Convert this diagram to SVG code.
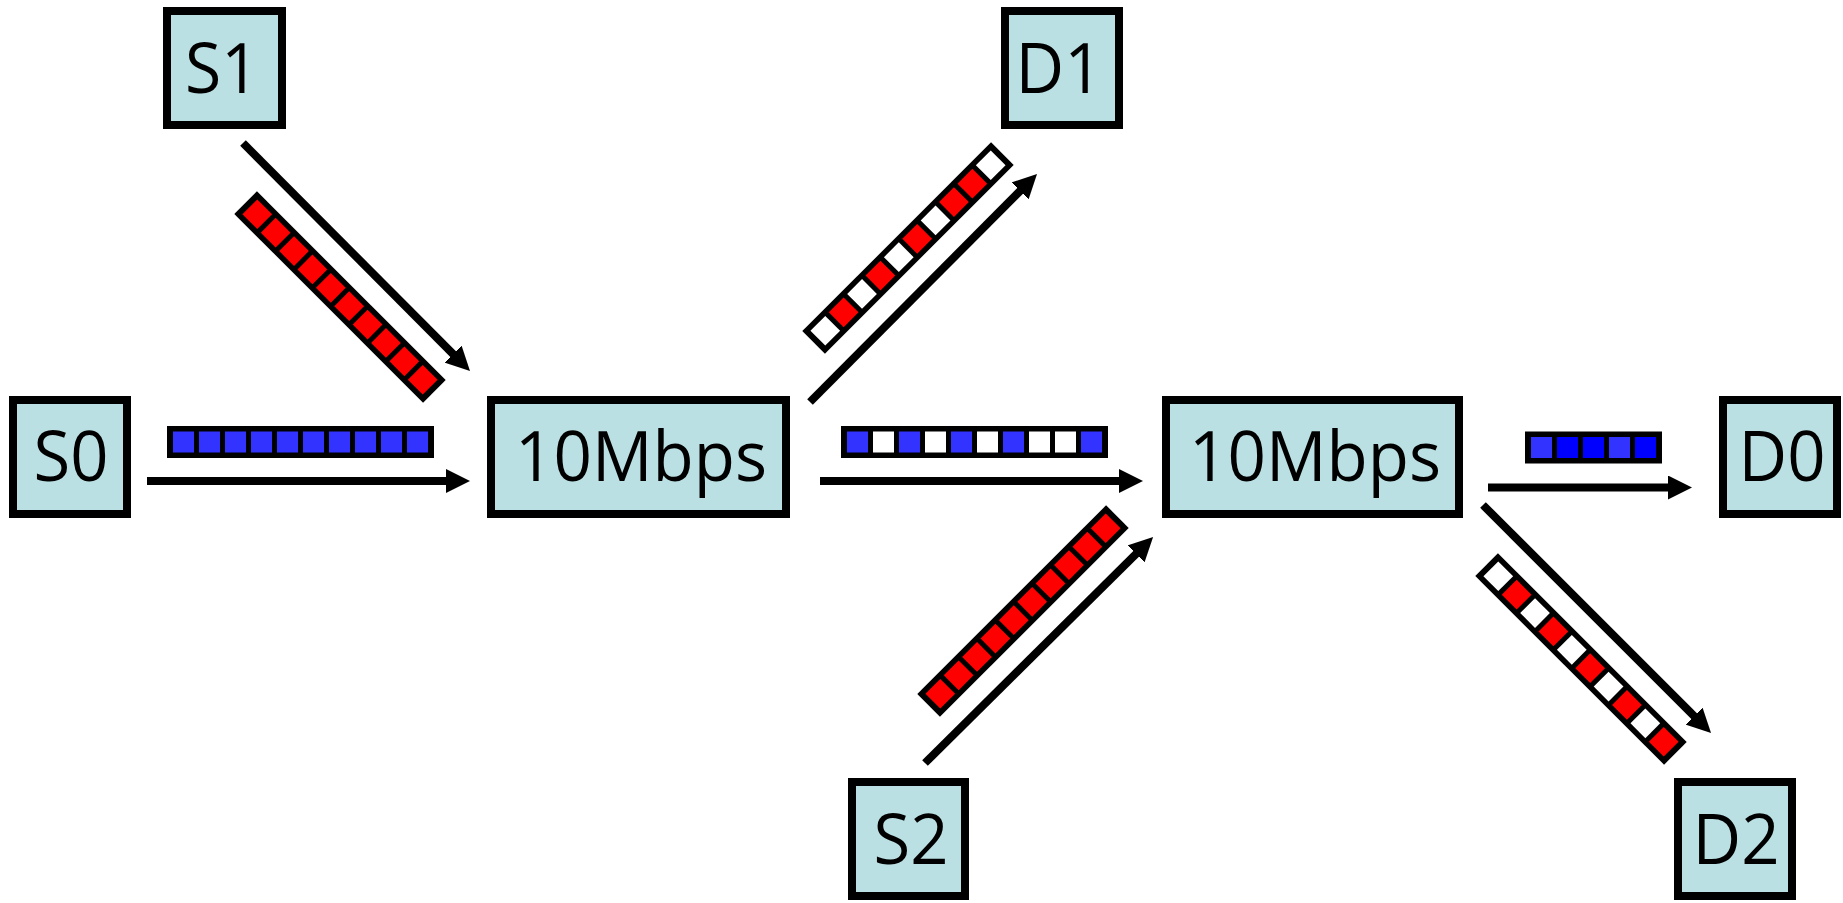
<svg xmlns="http://www.w3.org/2000/svg" width="1843" height="903" viewBox="0 0 1843 903">
  <style>
    .box { fill: #BBE0E3; stroke: #000; stroke-width: 8; }
    .lbl { font-family: "Open Sans", "Noto Sans", "Liberation Sans", sans-serif; font-size: 70px; fill: #000; text-anchor: middle; }
    .link { stroke: #000; stroke-width: 8; fill: none; marker-end: url(#head); }
    .frame { fill: #000; }
    .r { fill: #FF0000; }
    .b { fill: #3333FF; }
    .bb { fill: #0000FF; }
    .w { fill: #FFFFFF; }
  </style>
  <defs>
    <marker id="head" viewBox="0 0 24 24" refX="4" refY="12" markerWidth="24" markerHeight="24" markerUnits="userSpaceOnUse" orient="auto">
      <path d="M0,0 L24,12 L0,24 Z" fill="#000"/>
    </marker>
  </defs>
  <rect x="0" y="0" width="1843" height="903" fill="#FFFFFF"/>

  <g id="connectors">
    <line class="link" x1="147" y1="481" x2="450" y2="481"/>
    <line class="link" x1="820" y1="481" x2="1123" y2="481"/>
    <line class="link" x1="1488" y1="487.5" x2="1672" y2="487.5"/>
    <line class="link" x1="243" y1="143" x2="455.9" y2="356.9"/>
    <line class="link" x1="810" y1="402" x2="1022.9" y2="188.1"/>
    <line class="link" x1="925" y1="763" x2="1138.9" y2="551.1"/>
    <line class="link" x1="1483" y1="505" x2="1696.9" y2="718.9"/>
  </g>

  <g id="queues">
    <g id="q-s0" transform="translate(300.5,442)">
      <rect class="frame" x="-133.5" y="-16" width="267" height="32"/>
      <rect class="b" x="-127.5" y="-10.5" width="21" height="21"/>
      <rect class="b" x="-101.5" y="-10.5" width="21" height="21"/>
      <rect class="b" x="-75.5" y="-10.5" width="21" height="21"/>
      <rect class="b" x="-49.5" y="-10.5" width="21" height="21"/>
      <rect class="b" x="-23.5" y="-10.5" width="21" height="21"/>
      <rect class="b" x="2.5" y="-10.5" width="21" height="21"/>
      <rect class="b" x="28.5" y="-10.5" width="21" height="21"/>
      <rect class="b" x="54.5" y="-10.5" width="21" height="21"/>
      <rect class="b" x="80.5" y="-10.5" width="21" height="21"/>
      <rect class="b" x="106.5" y="-10.5" width="21" height="21"/>
    </g>
    <g id="q-s1" transform="translate(340,297) rotate(45)">
      <rect class="frame" x="-133.5" y="-16" width="267" height="32"/>
      <rect class="r" x="-127.5" y="-10.5" width="21" height="21"/>
      <rect class="r" x="-101.5" y="-10.5" width="21" height="21"/>
      <rect class="r" x="-75.5" y="-10.5" width="21" height="21"/>
      <rect class="r" x="-49.5" y="-10.5" width="21" height="21"/>
      <rect class="r" x="-23.5" y="-10.5" width="21" height="21"/>
      <rect class="r" x="2.5" y="-10.5" width="21" height="21"/>
      <rect class="r" x="28.5" y="-10.5" width="21" height="21"/>
      <rect class="r" x="54.5" y="-10.5" width="21" height="21"/>
      <rect class="r" x="80.5" y="-10.5" width="21" height="21"/>
      <rect class="r" x="106.5" y="-10.5" width="21" height="21"/>
    </g>
    <g id="q-mid" transform="translate(974.5,442)">
      <rect class="frame" x="-133.5" y="-16" width="267" height="32"/>
      <rect class="b" x="-127.5" y="-10.5" width="21" height="21"/>
      <rect class="w" x="-101.5" y="-10.5" width="21" height="21"/>
      <rect class="b" x="-75.5" y="-10.5" width="21" height="21"/>
      <rect class="w" x="-49.5" y="-10.5" width="21" height="21"/>
      <rect class="b" x="-23.5" y="-10.5" width="21" height="21"/>
      <rect class="w" x="2.5" y="-10.5" width="21" height="21"/>
      <rect class="b" x="28.5" y="-10.5" width="21" height="21"/>
      <rect class="w" x="54.5" y="-10.5" width="21" height="21"/>
      <rect class="w" x="80.5" y="-10.5" width="21" height="21"/>
      <rect class="b" x="106.5" y="-10.5" width="21" height="21"/>
    </g>
    <g id="q-d1" transform="translate(908,248) rotate(-45)">
      <rect class="frame" x="-133.5" y="-16" width="267" height="32"/>
      <rect class="w" x="-127.5" y="-10.5" width="21" height="21"/>
      <rect class="r" x="-101.5" y="-10.5" width="21" height="21"/>
      <rect class="w" x="-75.5" y="-10.5" width="21" height="21"/>
      <rect class="r" x="-49.5" y="-10.5" width="21" height="21"/>
      <rect class="w" x="-23.5" y="-10.5" width="21" height="21"/>
      <rect class="r" x="2.5" y="-10.5" width="21" height="21"/>
      <rect class="w" x="28.5" y="-10.5" width="21" height="21"/>
      <rect class="r" x="54.5" y="-10.5" width="21" height="21"/>
      <rect class="r" x="80.5" y="-10.5" width="21" height="21"/>
      <rect class="w" x="106.5" y="-10.5" width="21" height="21"/>
    </g>
    <g id="q-s2" transform="translate(1023,611) rotate(-45)">
      <rect class="frame" x="-133.5" y="-16" width="267" height="32"/>
      <rect class="r" x="-127.5" y="-10.5" width="21" height="21"/>
      <rect class="r" x="-101.5" y="-10.5" width="21" height="21"/>
      <rect class="r" x="-75.5" y="-10.5" width="21" height="21"/>
      <rect class="r" x="-49.5" y="-10.5" width="21" height="21"/>
      <rect class="r" x="-23.5" y="-10.5" width="21" height="21"/>
      <rect class="r" x="2.5" y="-10.5" width="21" height="21"/>
      <rect class="r" x="28.5" y="-10.5" width="21" height="21"/>
      <rect class="r" x="54.5" y="-10.5" width="21" height="21"/>
      <rect class="r" x="80.5" y="-10.5" width="21" height="21"/>
      <rect class="r" x="106.5" y="-10.5" width="21" height="21"/>
    </g>
    <g id="q-d0" transform="translate(1593.5,447.5)">
      <rect class="frame" x="-68.5" y="-16" width="137" height="32"/>
      <rect class="b" x="-62.5" y="-10.5" width="21" height="21"/>
      <rect class="bb" x="-36.5" y="-10.5" width="21" height="21"/>
      <rect class="bb" x="-10.5" y="-10.5" width="21" height="21"/>
      <rect class="b" x="15.5" y="-10.5" width="21" height="21"/>
      <rect class="bb" x="41.5" y="-10.5" width="21" height="21"/>
    </g>
    <g id="q-d2" transform="translate(1581,659) rotate(45)">
      <rect class="frame" x="-133.5" y="-16" width="267" height="32"/>
      <rect class="w" x="-127.5" y="-10.5" width="21" height="21"/>
      <rect class="r" x="-101.5" y="-10.5" width="21" height="21"/>
      <rect class="w" x="-75.5" y="-10.5" width="21" height="21"/>
      <rect class="r" x="-49.5" y="-10.5" width="21" height="21"/>
      <rect class="w" x="-23.5" y="-10.5" width="21" height="21"/>
      <rect class="r" x="2.5" y="-10.5" width="21" height="21"/>
      <rect class="w" x="28.5" y="-10.5" width="21" height="21"/>
      <rect class="r" x="54.5" y="-10.5" width="21" height="21"/>
      <rect class="w" x="80.5" y="-10.5" width="21" height="21"/>
      <rect class="r" x="106.5" y="-10.5" width="21" height="21"/>
    </g>
  </g>

  <g id="S1">
    <rect class="box" x="167" y="11" width="115" height="114"/>
    <text class="lbl" x="222" y="93" textLength="74" lengthAdjust="spacingAndGlyphs">S1</text>
  </g>
  <g id="D1">
    <rect class="box" x="1005" y="11" width="114" height="114"/>
    <text class="lbl" x="1059" y="93" textLength="87" lengthAdjust="spacingAndGlyphs">D1</text>
  </g>
  <g id="S0">
    <rect class="box" x="13" y="400" width="114" height="114"/>
    <text class="lbl" x="71" y="481" textLength="75" lengthAdjust="spacingAndGlyphs">S0</text>
  </g>
  <g id="R1">
    <rect class="box" x="491" y="400" width="295" height="114"/>
    <text class="lbl" x="641" y="481" textLength="252" lengthAdjust="spacingAndGlyphs">10Mbps</text>
  </g>
  <g id="R2">
    <rect class="box" x="1166" y="400" width="293" height="114"/>
    <text class="lbl" x="1315" y="481" textLength="252" lengthAdjust="spacingAndGlyphs">10Mbps</text>
  </g>
  <g id="D0">
    <rect class="box" x="1723" y="400" width="114" height="114"/>
    <text class="lbl" x="1782" y="481" textLength="87" lengthAdjust="spacingAndGlyphs">D0</text>
  </g>
  <g id="S2">
    <rect class="box" x="852" y="782" width="113" height="114"/>
    <text class="lbl" x="911" y="864" textLength="75" lengthAdjust="spacingAndGlyphs">S2</text>
  </g>
  <g id="D2">
    <rect class="box" x="1678" y="782" width="114" height="114"/>
    <text class="lbl" x="1736" y="864" textLength="87" lengthAdjust="spacingAndGlyphs">D2</text>
  </g>
</svg>
